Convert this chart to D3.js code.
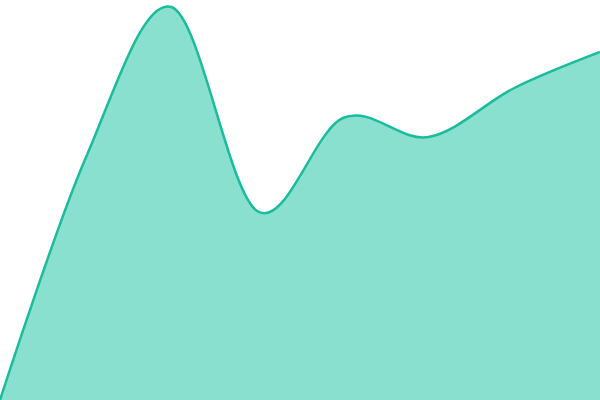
<!DOCTYPE html>
<html><head><meta charset="utf-8">
<script src="https://cdn.jsdelivr.net/npm/d3@7"></script>
<style>html,body{margin:0;padding:0;background:#fff;overflow:hidden}</style>
</head><body>
<svg id="chart" width="600" height="400"></svg>
<script>
const categories = [0, 1, 2, 3, 4, 5, 6, 7];
const values = [0, 242, 393, 189, 282, 263, 312, 348];

const width = 600, height = 400;
const svg = d3.select("#chart");
const x = d3.scaleLinear().domain([0, categories.length - 1]).range([0, width]);
const y = d3.scaleLinear().domain([0, 400]).range([height, 0]);

const data = categories.map((c, i) => ({c, v: values[i]}));

const area = d3.area()
  .x(d => x(d.c)).y0(y(0)).y1(d => y(d.v))
  .curve(d3.curveCardinal);
const line = d3.line()
  .x(d => x(d.c)).y(d => y(d.v))
  .curve(d3.curveCardinal);

svg.append("path").datum(data).attr("d", area)
  .attr("fill", "#8ae0cf");
svg.append("path").datum(data).attr("d", line)
  .attr("fill", "none").attr("stroke", "#1abc9c").attr("stroke-width", 2.5);
</script>
</body></html>
